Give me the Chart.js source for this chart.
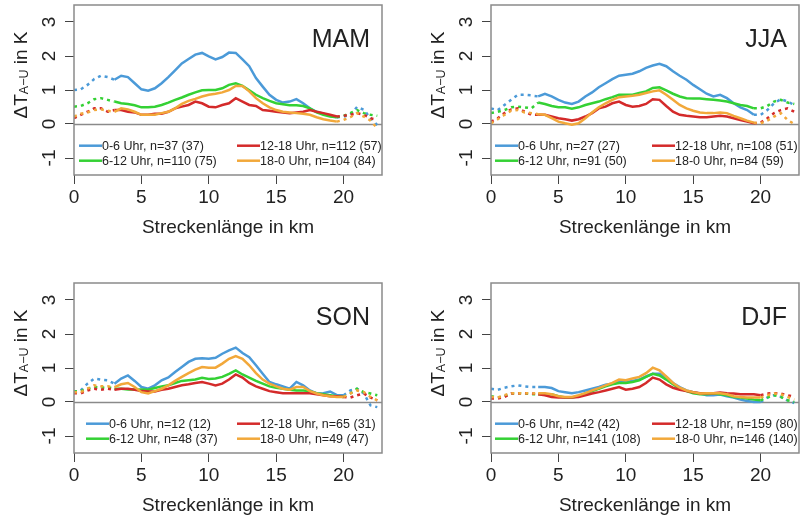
<!DOCTYPE html>
<html><head><meta charset="utf-8">
<script src="https://cdn.jsdelivr.net/npm/chart.js@4.4.1/dist/chart.umd.min.js"></script>
<style>
html,body{margin:0;padding:0;background:#fff;}
#wrap{position:relative;width:800px;height:518px;overflow:hidden;background:#fff;}
canvas{position:absolute;}
</style></head><body>
<div id="wrap">
<canvas id="c0" width="400" height="260" style="left:0;top:0"></canvas>
<canvas id="c1" width="383" height="260" style="left:417px;top:0"></canvas>
<canvas id="c2" width="400" height="240" style="left:0;top:278px"></canvas>
<canvas id="c3" width="383" height="240" style="left:417px;top:278px"></canvas>
</div>
<script>
// ---- data ----
const km = [0,0.5,1,1.5,2,2.5,3,3.5,4,4.5,5,5.5,6,6.5,7,7.5,8,8.5,9,9.5,10,10.5,11,11.5,12,12.5,13,13.5,14,14.5,15,15.5,16,16.5,17,17.5,18,18.5,19,19.5,20,20.5,21,21.5,22,22.5];
const xTicks = [0,5,10,15,20];
const yTicks = [-1,0,1,2,3];
const seasons = ["MAM","JJA","SON","DJF"];
const seriesNames = ["0-6 Uhr","6-12 Uhr","12-18 Uhr","18-0 Uhr"];

const mamBlue   = [1.0,1.02,1.15,1.32,1.42,1.38,1.3,1.42,1.38,1.2,1.02,0.98,1.05,1.2,1.38,1.58,1.78,1.91,2.04,2.09,1.99,1.9,1.97,2.1,2.09,1.9,1.7,1.35,1.1,0.86,0.71,0.63,0.66,0.73,0.61,0.46,0.36,0.3,0.24,0.2,0.22,0.27,0.5,0.42,0.17,-0.03];
const mamGreen  = [0.51,0.53,0.61,0.73,0.76,0.71,0.66,0.61,0.59,0.55,0.49,0.49,0.51,0.56,0.63,0.71,0.78,0.86,0.93,0.99,1.0,1.0,1.05,1.15,1.2,1.12,0.99,0.86,0.76,0.68,0.61,0.58,0.55,0.55,0.53,0.46,0.34,0.27,0.22,0.2,0.24,0.32,0.41,0.32,0.27,0.24];
const mamRed    = [0.17,0.27,0.36,0.46,0.46,0.36,0.41,0.41,0.36,0.34,0.27,0.27,0.3,0.3,0.36,0.46,0.51,0.56,0.66,0.61,0.51,0.49,0.56,0.61,0.76,0.66,0.56,0.53,0.41,0.39,0.36,0.34,0.32,0.34,0.36,0.41,0.36,0.32,0.27,0.22,0.24,0.27,0.32,0.27,0.17,0.12];
const mamOrange = [0.22,0.3,0.34,0.41,0.43,0.39,0.36,0.46,0.43,0.36,0.27,0.27,0.27,0.32,0.36,0.46,0.59,0.68,0.74,0.81,0.86,0.89,0.93,1.0,1.12,1.12,0.96,0.76,0.61,0.49,0.41,0.36,0.34,0.32,0.3,0.27,0.2,0.14,0.1,0.07,0.12,0.2,0.32,0.22,0.1,-0.13];

const jjaBlue   = [0.46,0.41,0.56,0.71,0.86,0.86,0.84,0.81,0.89,0.81,0.71,0.63,0.59,0.66,0.81,0.93,1.08,1.2,1.32,1.42,1.45,1.48,1.55,1.65,1.72,1.77,1.7,1.55,1.42,1.3,1.15,1.02,0.89,0.81,0.86,0.76,0.61,0.49,0.41,0.27,0.27,0.41,0.61,0.73,0.66,0.56];
const jjaGreen  = [0.32,0.36,0.41,0.49,0.51,0.49,0.46,0.63,0.59,0.53,0.49,0.49,0.45,0.49,0.56,0.61,0.66,0.73,0.79,0.86,0.86,0.86,0.91,0.96,1.06,1.08,0.99,0.89,0.81,0.76,0.75,0.75,0.73,0.71,0.69,0.66,0.61,0.56,0.53,0.46,0.46,0.53,0.66,0.71,0.63,0.59];
const jjaRed    = [0.07,0.17,0.32,0.43,0.46,0.36,0.27,0.27,0.27,0.22,0.17,0.14,0.1,0.14,0.22,0.32,0.46,0.51,0.61,0.66,0.56,0.51,0.53,0.59,0.73,0.71,0.53,0.36,0.27,0.24,0.22,0.2,0.2,0.22,0.24,0.22,0.17,0.12,0.07,0.02,0.04,0.17,0.32,0.41,0.46,0.36];
const jjaOrange = [0.02,0.14,0.27,0.39,0.41,0.34,0.32,0.29,0.27,0.17,0.07,0.02,-0.02,0.02,0.17,0.34,0.49,0.61,0.71,0.79,0.81,0.83,0.86,0.91,0.96,0.99,0.86,0.71,0.56,0.46,0.39,0.34,0.32,0.32,0.34,0.32,0.24,0.17,0.1,0.04,0.02,0.1,0.22,0.32,0.12,0.0];

const sonBlue   = [0.29,0.34,0.54,0.69,0.66,0.64,0.54,0.69,0.78,0.62,0.44,0.39,0.49,0.64,0.72,0.88,1.03,1.18,1.27,1.29,1.27,1.3,1.42,1.52,1.6,1.44,1.32,1.08,0.83,0.59,0.52,0.46,0.39,0.59,0.49,0.34,0.25,0.26,0.31,0.2,0.2,0.34,0.39,0.25,-0.1,-0.15];
const sonGreen  = [0.31,0.32,0.39,0.44,0.42,0.44,0.39,0.39,0.37,0.37,0.37,0.36,0.41,0.46,0.49,0.56,0.62,0.64,0.66,0.71,0.68,0.69,0.74,0.83,0.93,0.81,0.72,0.62,0.54,0.46,0.42,0.39,0.36,0.34,0.34,0.32,0.26,0.23,0.2,0.17,0.15,0.25,0.39,0.29,0.25,0.2];
const sonRed    = [0.26,0.25,0.34,0.39,0.36,0.39,0.36,0.39,0.39,0.36,0.32,0.31,0.31,0.36,0.39,0.44,0.49,0.52,0.56,0.59,0.54,0.49,0.54,0.66,0.81,0.72,0.56,0.46,0.39,0.32,0.29,0.26,0.26,0.26,0.26,0.26,0.23,0.2,0.17,0.17,0.15,0.13,0.2,0.25,0.13,0.05];
const sonOrange = [0.29,0.29,0.39,0.49,0.46,0.46,0.44,0.52,0.56,0.44,0.29,0.25,0.32,0.39,0.49,0.62,0.74,0.85,0.95,1.03,1.01,1.01,1.13,1.27,1.35,1.27,1.08,0.85,0.66,0.54,0.46,0.39,0.36,0.44,0.44,0.32,0.25,0.2,0.17,0.15,0.15,0.25,0.34,0.29,0.15,0.05];

const djfBlue   = [0.39,0.36,0.42,0.46,0.49,0.46,0.44,0.44,0.44,0.41,0.32,0.29,0.26,0.29,0.34,0.39,0.44,0.51,0.54,0.59,0.59,0.62,0.66,0.75,0.83,0.83,0.74,0.56,0.44,0.34,0.29,0.25,0.2,0.2,0.22,0.17,0.13,0.07,0.03,0.0,0.0,0.13,0.2,0.15,0.05,-0.03];
const djfGreen  = [0.17,0.13,0.17,0.25,0.26,0.25,0.23,0.23,0.23,0.23,0.17,0.13,0.13,0.17,0.25,0.32,0.39,0.46,0.52,0.56,0.56,0.59,0.64,0.74,0.83,0.78,0.66,0.52,0.39,0.32,0.26,0.23,0.23,0.25,0.23,0.2,0.15,0.13,0.1,0.07,0.05,0.13,0.2,0.15,0.05,0.0];
const djfRed    = [0.1,0.1,0.15,0.25,0.25,0.26,0.25,0.23,0.2,0.15,0.13,0.13,0.13,0.15,0.2,0.25,0.29,0.34,0.39,0.44,0.36,0.39,0.44,0.56,0.72,0.66,0.52,0.42,0.36,0.32,0.29,0.26,0.26,0.26,0.28,0.26,0.25,0.23,0.23,0.23,0.2,0.25,0.26,0.25,0.2,0.15];
const djfOrange = [0.15,0.13,0.2,0.26,0.26,0.26,0.25,0.26,0.26,0.23,0.17,0.15,0.15,0.2,0.26,0.34,0.41,0.49,0.56,0.66,0.64,0.69,0.74,0.85,1.01,0.93,0.75,0.56,0.42,0.34,0.29,0.25,0.26,0.26,0.26,0.23,0.17,0.15,0.13,0.13,0.13,0.2,0.25,0.23,0.15,0.07];

const mamN = ["n=37 (37)","n=110 (75)","n=112 (57)","n=104 (84)"];
const jjaN = ["n=27 (27)","n=91 (50)","n=108 (51)","n=84 (59)"];
const sonN = ["n=12 (12)","n=48 (37)","n=65 (31)","n=49 (47)"];
const djfN = ["n=42 (42)","n=141 (108)","n=159 (80)","n=146 (140)"];

// km range where lines are drawn solid (dotted outside)
const solidFrom = [3.0, 3.5, 3.0, 3.5];
const solidTo   = [19.5, 19.5, 20.0, 20.0];

// ---- styling / layout ----
const colors = ["#4B9AD8","#34D134","#D42A2A","#F2A83A"];
const FONT = "'Liberation Sans', Arial, Helvetica, sans-serif";
const panelData = [
  [mamBlue, mamGreen, mamRed, mamOrange],
  [jjaBlue, jjaGreen, jjaRed, jjaOrange],
  [sonBlue, sonGreen, sonRed, sonOrange],
  [djfBlue, djfGreen, djfRed, djfOrange]
];
const panelN = [mamN, jjaN, sonN, djfN];
const layoutCfg = [
  {padR:18, axisH:85, legX:5,  legX2:163},
  {padR:1,  axisH:85, legX:4,  legX2:161},
  {padR:18, axisH:65, legX:12, legX2:163},
  {padR:1,  axisH:65, legX:4,  legX2:161}
];

function makePlugin(p){
  const L = layoutCfg[p];
  return {
    id:'deco'+p,
    beforeDatasetsDraw(chart){
      const ctx = chart.ctx, a = chart.chartArea, ys = chart.scales.y;
      ctx.save();
      ctx.strokeStyle = '#8a8a8a'; ctx.lineWidth = 1.5;
      const y0 = Math.round(ys.getPixelForValue(0)) + 0.5;
      ctx.beginPath(); ctx.moveTo(a.left, y0); ctx.lineTo(a.right, y0); ctx.stroke();
      ctx.restore();
    },
    afterDraw(chart){
      const ctx = chart.ctx, a = chart.chartArea, ys = chart.scales.y;
      ctx.save();
      // box
      ctx.strokeStyle = '#8a8a8a'; ctx.lineWidth = 1.5;
      ctx.strokeRect(a.left, a.top, a.right - a.left, a.bottom - a.top);
      // y tick labels (rotated like R)
      ctx.fillStyle = '#222';
      ctx.font = '19px ' + FONT;
      ctx.textAlign = 'center'; ctx.textBaseline = 'alphabetic';
      yTicks.forEach(v => {
        const y = ys.getPixelForValue(v);
        ctx.save(); ctx.translate(a.left - 19, y); ctx.rotate(-Math.PI/2);
        ctx.fillText(String(v), 0, 0); ctx.restore();
      });
      // y title
      ctx.save();
      ctx.translate(27, a.top + 70); ctx.rotate(-Math.PI/2);
      const big = '19px ' + FONT, small = '12.5px ' + FONT;
      ctx.font = big; const w1 = ctx.measureText('\u0394T').width; const w3 = ctx.measureText(' in K').width;
      ctx.font = small; const w2 = ctx.measureText('A\u2212U').width;
      let x = -(w1 + w2 + w3) / 2;
      ctx.textAlign = 'left';
      ctx.font = big; ctx.fillText('\u0394T', x, 0); x += w1;
      ctx.font = small; ctx.fillText('A\u2212U', x, 1); x += w2;
      ctx.font = big; ctx.fillText(' in K', x, 0);
      ctx.restore();
      // x title
      ctx.font = '19px ' + FONT; ctx.textAlign = 'center'; ctx.textBaseline = 'alphabetic';
      ctx.fillText('Streckenlänge in km', (a.left + a.right) / 2, a.bottom + 58);
      // season label
      ctx.font = '25px ' + FONT; ctx.textAlign = 'right';
      ctx.fillText(seasons[p], a.right - 12, a.top + 42);
      // legend
      ctx.font = '12.5px ' + FONT; ctx.textAlign = 'left'; ctx.textBaseline = 'middle';
      const order = [[0, L.legX, 140.7], [2, L.legX2, 140.7], [1, L.legX, 155.7], [3, L.legX2, 155.7]];
      order.forEach(([s, dx, dy]) => {
        const lx = a.left + dx, ly = a.top + dy;
        ctx.strokeStyle = colors[s]; ctx.lineWidth = 2.5;
        ctx.beginPath(); ctx.moveTo(lx, ly); ctx.lineTo(lx + 23, ly); ctx.stroke();
        ctx.fillStyle = '#222';
        ctx.fillText(seriesNames[s] + ', ' + panelN[p][s], lx + 23, ly + 0.5);
      });
      ctx.restore();
    }
  };
}

for (let p = 0; p < 4; p++){
  const L = layoutCfg[p];
  const from = solidFrom[p], to = solidTo[p];
  const datasets = panelData[p].map((vals, s) => ({
    label: seriesNames[s],
    data: km.map((x, i) => ({x: x, y: vals[i]})),
    borderColor: colors[s],
    borderWidth: 2.5,
    pointRadius: 0,
    tension: 0,
    fill: false,
    order: 3 - s,
    segment: {
      borderDash: c => (c.p0.parsed.x < from || c.p1.parsed.x > to) ? [3, 4] : undefined
    }
  }));
  new Chart(document.getElementById('c' + p), {
    type: 'line',
    data: { datasets },
    options: {
      responsive: false,
      animation: false,
      layout: { padding: { top: 5, right: L.padR, left: 0, bottom: 0 } },
      plugins: { legend: { display: false }, tooltip: { enabled: false } },
      scales: {
        x: {
          type: 'linear', min: 0, max: 22.85,
          afterBuildTicks: sc => { sc.ticks = xTicks.map(v => ({value: v})); },
          afterFit: sc => { sc.height = L.axisH; },
          ticks: { color: '#222', font: { size: 19, family: FONT }, padding: 2, maxRotation: 0, autoSkip: false },
          grid: { display: true, drawOnChartArea: false, drawTicks: true, tickLength: 9, color: '#444', lineWidth: 1 },
          border: { display: false }
        },
        y: {
          type: 'linear', min: -1.5, max: 3.5,
          afterBuildTicks: sc => { sc.ticks = yTicks.map(v => ({value: v})); },
          afterFit: sc => { sc.width = 74; },
          ticks: { display: false },
          grid: { display: true, drawOnChartArea: false, drawTicks: true, tickLength: 9, color: '#444', lineWidth: 1 },
          border: { display: false }
        }
      }
    },
    plugins: [makePlugin(p)]
  });
}
</script>
</body></html>
